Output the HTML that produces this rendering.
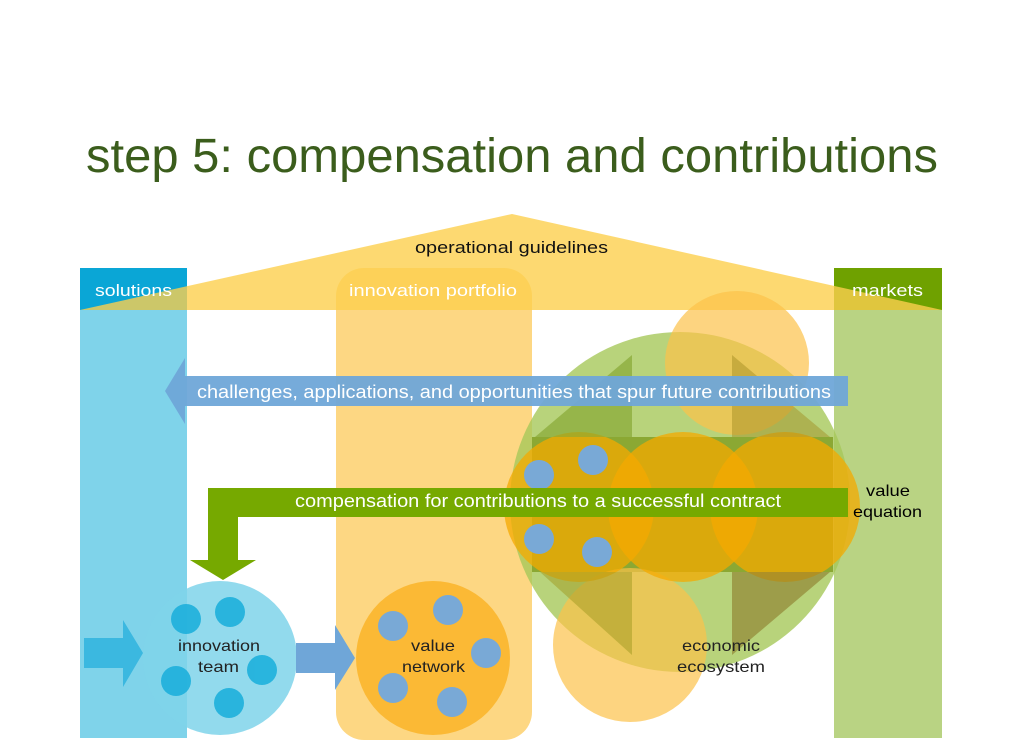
<!DOCTYPE html>
<html><head><meta charset="utf-8"><style>
html,body{margin:0;padding:0;background:#fff;}
svg{display:block;font-family:"Liberation Sans",Arial,sans-serif;}
</style></head><body>
<svg width="1024" height="748" viewBox="0 0 1024 748" xmlns="http://www.w3.org/2000/svg">
<rect width="1024" height="748" fill="#fff"/>
<text x="86" y="172" font-size="48" fill="#3b5d1c" textLength="852" lengthAdjust="spacingAndGlyphs">step 5: compensation and contributions</text>

<!-- columns -->
<rect x="80" y="268" width="107" height="470" fill="#7fd3ea"/>
<rect x="80" y="268" width="107" height="42" fill="#0aa6d6"/>
<rect x="834" y="310" width="108" height="428" fill="#b9d383"/>
<rect x="834" y="268" width="108" height="42" fill="#6fa100"/>
<rect x="336" y="268" width="196" height="472" rx="28" fill="#fcc95a" opacity="0.75"/>

<!-- roof -->
<polygon points="80,310 512,214 942,310" fill="#fdd04e" opacity="0.8"/>

<!-- ecosystem -->
<circle cx="680" cy="502" r="170" fill="#a6c85a" opacity="0.8"/>
<rect x="532" y="437" width="301" height="135" fill="#7f9e22" opacity="0.8"/>
<circle cx="737" cy="363" r="72" fill="#fcc24a" opacity="0.7"/>
<circle cx="630" cy="645" r="77" fill="#fcc24a" opacity="0.7"/>
<circle cx="579" cy="507" r="75" fill="#f4a900" opacity="0.75"/>
<circle cx="683" cy="507" r="75" fill="#f4a900" opacity="0.75"/>
<circle cx="785" cy="507" r="75" fill="#f4a900" opacity="0.75"/>
<polygon points="632,355 632,437 535,437" fill="#7fa22a" opacity="0.6"/>
<polygon points="732,355 732,437 830,437" fill="#a08a20" opacity="0.45"/>
<polygon points="632,655 632,572 540,572" fill="#a09a20" opacity="0.5"/>
<polygon points="732,655 732,572 830,572" fill="#8a7a2a" opacity="0.6"/>
<g fill="#79a9d6"><circle cx="539" cy="475" r="15"/><circle cx="593" cy="460" r="15"/><circle cx="539" cy="539" r="15"/><circle cx="597" cy="552" r="15"/></g>

<!-- blue arrow -->
<polygon points="165,391 185,358 185,376 848,376 848,406 185,406 185,424" fill="#6fa6d8" opacity="0.95"/>
<text x="197" y="398" font-size="18" fill="#fff" textLength="634" lengthAdjust="spacingAndGlyphs">challenges, applications, and opportunities that spur future contributions</text>

<!-- green arrow -->
<polygon points="208,488 848,488 848,517 238,517 238,560 256,560 223,580 190,560 208,560" fill="#76a900"/>
<text x="295" y="507" font-size="18" fill="#fff" textLength="486" lengthAdjust="spacingAndGlyphs">compensation for contributions to a successful contract</text>

<!-- innovation team -->
<polygon points="84,638 123,638 123,620 143,653 123,687 123,668 84,668" fill="#3bb8e0"/>
<circle cx="220" cy="658" r="77" fill="#7fd3ea" opacity="0.85"/>
<g fill="#1eb0dc" opacity="0.9"><circle cx="186" cy="619" r="15"/><circle cx="230" cy="612" r="15"/><circle cx="262" cy="670" r="15"/><circle cx="176" cy="681" r="15"/><circle cx="229" cy="703" r="15"/></g>
<polygon points="296,643 335,643 335,625 355,658 335,690 335,673 296,673" fill="#6fa6d8"/>
<circle cx="433" cy="658" r="77" fill="#fbb935"/>
<g fill="#79a9d6"><circle cx="393" cy="626" r="15"/><circle cx="448" cy="610" r="15"/><circle cx="486" cy="653" r="15"/><circle cx="393" cy="688" r="15"/><circle cx="452" cy="702" r="15"/></g>

<!-- labels -->
<g font-size="17">
<text x="415" y="253" fill="#111" textLength="193" lengthAdjust="spacingAndGlyphs">operational guidelines</text>
<text x="95" y="296" fill="#fff" textLength="77" lengthAdjust="spacingAndGlyphs">solutions</text>
<text x="349" y="296" fill="#fff" textLength="168" lengthAdjust="spacingAndGlyphs">innovation portfolio</text>
<text x="852" y="296" fill="#fff" textLength="71" lengthAdjust="spacingAndGlyphs">markets</text>
</g>
<g font-size="16" fill="#222">
<text x="178" y="651" textLength="82" lengthAdjust="spacingAndGlyphs">innovation</text><text x="198" y="672" textLength="41" lengthAdjust="spacingAndGlyphs">team</text>
<text x="411" y="651" textLength="44" lengthAdjust="spacingAndGlyphs">value</text><text x="402" y="672" textLength="63" lengthAdjust="spacingAndGlyphs">network</text>
<text x="682" y="651" textLength="78" lengthAdjust="spacingAndGlyphs">economic</text><text x="677" y="672" textLength="88" lengthAdjust="spacingAndGlyphs">ecosystem</text>
<text x="866" y="496" fill="#000" textLength="44" lengthAdjust="spacingAndGlyphs">value</text><text x="853" y="517" fill="#000" textLength="69" lengthAdjust="spacingAndGlyphs">equation</text>
</g>
</svg>
</body></html>
